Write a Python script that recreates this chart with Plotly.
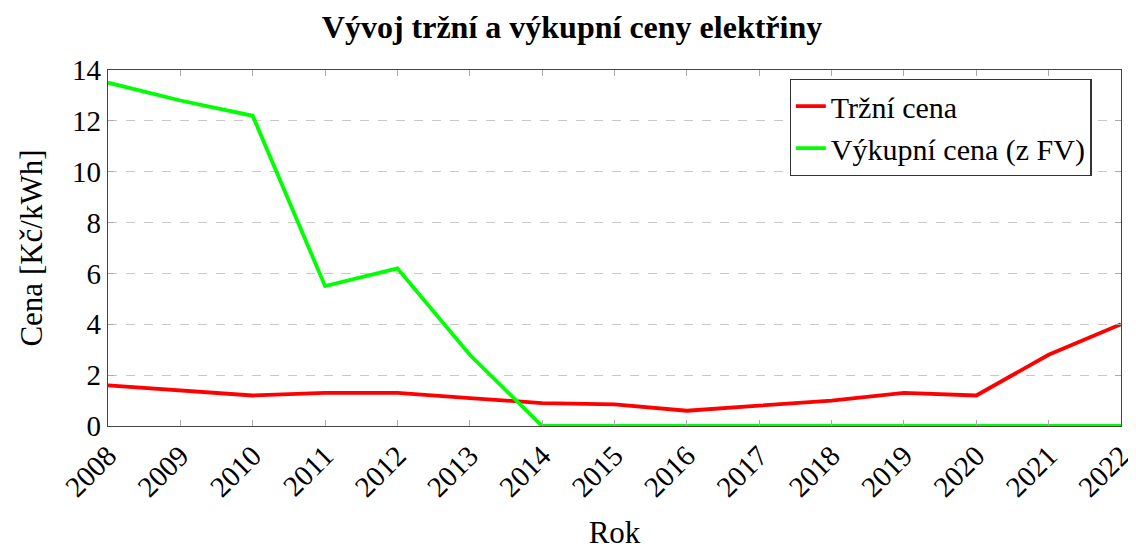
import plotly.graph_objects as go

years = [str(y) for y in range(2008, 2023)]
trzni_cena = [1.6, 1.4, 1.2, 1.3, 1.3, 1.1, 0.9, 0.85, 0.6, 0.8, 1.0, 1.3, 1.2, 2.8, 4.0]
vykupni_cena = [13.5, 12.8, 12.2, 5.5, 6.2, 2.8, 0.0, 0.0, 0.0, 0.0, 0.0, 0.0, 0.0, 0.0, 0.0]
y_ticks = [0, 2, 4, 6, 8, 10, 12, 14]

FONT = "Liberation Serif"

fig = go.Figure()
fig.add_trace(go.Scatter(x=years, y=trzni_cena, mode="lines", name="Tržní cena",
                         line=dict(color="#ff0000", width=3.8)))
fig.add_trace(go.Scatter(x=years, y=vykupni_cena, mode="lines", name="Výkupní cena (z FV)",
                         line=dict(color="#00ff00", width=3.8)))

# page body has an 8px margin: size figure so it fits the 1136x550 window
fig.update_layout(
    width=1128, height=542,
    margin=dict(l=100, r=15, t=62, b=124, autoexpand=False),
    paper_bgcolor="white", plot_bgcolor="white",
    font=dict(family=FONT, color="black", size=29),
    title=dict(text="<b>Vývoj tržní a výkupní ceny elektřiny</b>", x=0.5, xanchor="center",
               y=1 - 19 / 542, yanchor="middle", font=dict(size=32, family=FONT)),
    legend=dict(x=0.971, y=0.975, xanchor="right", yanchor="top",
                bordercolor="#333", borderwidth=1.2, bgcolor="white",
                font=dict(size=30, family=FONT), tracegroupgap=0),
    showlegend=True,
)
fig.update_xaxes(
    type="category", range=[0, 14], tickangle=-45, automargin=False,
    showline=True, linecolor="#444", linewidth=1.2, mirror="ticks",
    ticks="inside", ticklen=6, tickcolor="#aaa",
    showgrid=False, zeroline=False,
    tickfont=dict(size=29, family=FONT),
    title=dict(text="Rok", font=dict(size=31, family=FONT), standoff=36),
)
fig.update_yaxes(
    range=[0, 14], tickvals=y_ticks, automargin=False,
    showline=True, linecolor="#444", linewidth=1.2, mirror="ticks",
    ticks="inside", ticklen=6, tickcolor="#aaa",
    showgrid=True, gridcolor="#c8c8c8", griddash="dash", gridwidth=1,
    zeroline=False,
    tickfont=dict(size=29, family=FONT),
    title=dict(text="Cena [Kč/kWh]", font=dict(size=31, family=FONT), standoff=20),
)

fig.write_html("out.html")
